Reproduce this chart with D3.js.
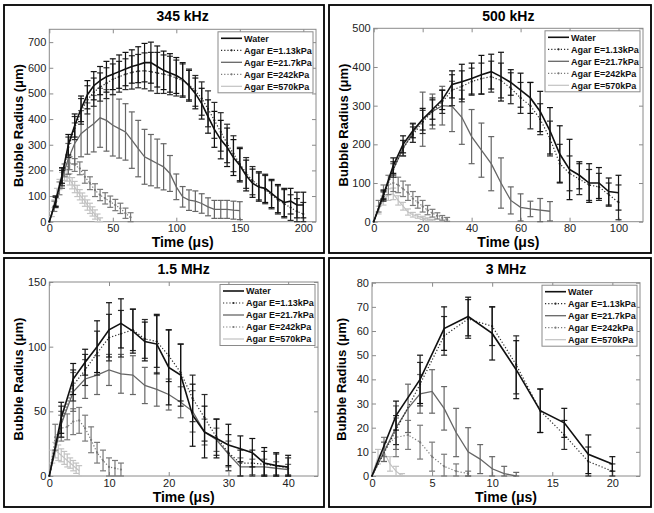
<!DOCTYPE html>
<html>
<head>
<meta charset="utf-8">
<script src="https://cdn.jsdelivr.net/npm/d3@7"></script>
<style>
  body { margin: 0; background: #fff; }
  svg { display: block; font-family: "Liberation Sans", Arial, sans-serif; }
</style>
</head>
<body>
<div id="chart"></div>
<script>
var width = 654,
    height = 513;

// legend labels, same order in every panel
var seriesNames = ["Water", "Agar E=1.13kPa", "Agar E=21.7kPa", "Agar E=242kPa", "Agar E=570kPa"];

// ---- 345 kHz ----
var t345 = [0,5,10,15,20,25,30,35,40,45,50,55,60,65,70,75,80,85,90,95,100,105,110,115,120,125,130,135,140,145,150,155,160,165,170,175,180,185,190,195,200];
var water345 = [0,80,180,300,375,440,495,530,550,565,575,585,595,605,612,620,620,605,590,580,570,555,530,500,460,410,360,320,290,250,220,180,150,135,130,110,90,75,80,65,65];
var water345Err = [0,20,30,40,45,50,55,55,55,60,60,65,65,65,70,75,80,80,75,75,70,65,60,60,60,65,70,75,75,70,65,60,55,55,55,55,55,55,50,50,50];
var agar113_345 = [0,75,170,290,365,430,475,505,525,540,555,565,575,582,587,588,585,580,575,570,560,550,535,510,480,440,395,350,305,265,225,190,160,140,125,105,85,70,55,40,30];
var agar113_345Err = [0,20,30,40,45,50,55,55,55,60,60,60,60,65,65,70,75,80,75,75,70,65,60,60,65,70,70,75,75,70,65,60,55,55,55,55,55,55,50,50,45];
var t217_345 = [0,5,10,15,20,25,30,35,40,45,50,55,60,65,70,75,80,85,90,95,100,105,110,115,120,125,130,135,140,145,150];
var agar217_345 = [0,80,170,245,305,343,363,382,405,395,376,363,350,318,285,253,240,227,214,188,136,97,84,80,71,58,48,48,48,45,43];
var agar217_345Err = [0,20,40,60,80,90,100,110,115,120,120,115,110,110,110,107,100,95,90,70,50,40,40,40,38,35,35,35,35,35,35];
var t242_345 = [0,4,8,12,16,20,24,28,32,36,40,44,48,52,56,60,64];
var agar242_345 = [0,60,130,200,228,221,208,175,150,123,104,91,78,65,52,33,17];
var agar242_345Err = [0,20,25,25,25,25,25,25,25,25,22,22,22,22,20,20,18];
var t570_345 = [0,2,4,6,8,10,12,14,16,18,20,22,24,26,28,30,32,34,36,38,40];
var agar570_345 = [0,30,70,110,145,170,183,180,165,150,135,120,105,92,80,65,52,40,28,15,5];
var agar570_345Err = [0,10,15,20,20,22,22,22,22,22,22,22,20,20,20,20,20,18,18,15,10];

// ---- 500 kHz ----
var t500 = [0,4,8,12,16,20,24,28,32,36,40,44,48,52,56,60,64,68,72,76,80,84,88,92,96,100];
var water500 = [0,70,145,200,235,265,290,315,355,362,370,380,388,375,360,340,320,285,235,175,135,120,100,100,78,75];
var water500Err = [0,12,20,22,18,28,25,25,35,45,40,50,45,63,33,44,40,52,60,73,78,35,50,40,35,45];
var agar113_500 = [0,65,135,190,225,258,285,310,340,350,362,370,375,365,345,320,300,265,215,150,125,110,95,90,70,50];
var agar113_500Err = [0,12,20,20,20,30,35,30,40,40,35,40,40,45,40,40,60,40,45,50,45,40,40,35,30,45];
var t217_500 = [0,4,8,12,16,20,24,28,32,36,40,44,48,52,56,60,64,68,72];
var agar217_500 = [0,70,135,190,230,265,285,300,298,270,220,185,150,100,55,37,33,30,27];
var agar217_500Err = [0,10,15,20,25,70,45,50,65,70,70,70,70,65,35,35,20,30,25];
var t242_500 = [0,2,4,6,8,10,12,14,16,18,20,22,24,26,28,30];
var agar242_500 = [0,40,75,95,100,95,85,75,60,50,40,30,22,15,10,6];
var agar242_500Err = [0,15,20,25,22,20,20,20,18,15,15,12,10,8,6,5];
var t570_500 = [0,2,4,6,8,10,12,14,16,18,20,22,24];
var agar570_500 = [0,30,55,70,72,55,40,25,18,14,10,7,4];
var agar570_500Err = [0,10,12,15,15,12,10,8,6,5,4,3,2];

// ---- 1.5 MHz ----
var t15 = [0,2,4,6,8,10,12,14,16,18,20,22,24,26,28,30,32,34,36,38,40];
var water15 = [0,45,75,88,100,113,118,112,104,102,84,78,47,34,29,24,21,18,10,8,7];
var water15Err = [0,12,12,10,20,21,19,17,15,23,29,24,24,20,15,16,10,11,12,10,9];
var agar113_15 = [0,42,70,82,95,107,110,113,106,104,93,80,60,45,30,18,10,10,9,8,6];
var agar113_15Err = [0,12,12,12,17,18,18,16,15,20,20,22,18,18,14,14,10,10,10,9,8];
var agar217_15 = [0,40,65,75,78,82,79,78,70,67,63,57,50,34,28,17,7,7,7,6,5];
var agar217_15Err = [0,10,15,15,15,12,15,15,14,13,12,12,16,10,9,10,7,6,6,5,4];
var t242_15 = [0,1,2,3,4,5,6,7,8,9,10,11,12];
var agar242_15 = [0,30,37,38,42,43,37,28,18,12,7,6,5];
var agar242_15Err = [0,10,10,10,10,10,10,10,8,8,7,6,5];
var t570_15 = [0,0.5,1,1.5,2,2.5,3,3.5,4,4.5,5];
var agar570_15 = [0,15,20,18,16,14,12,10,8,6,4];
var agar570_15Err = [0,5,6,6,5,5,5,4,4,4,4];

// ---- 3 MHz ----
var t3 = [0,2,4,6,8,10,12,14,16,18,20];
var water3 = [0,25,40,61,66,59,44,27,22,9,5];
var water3Err = [0,6,10,9,8,11,12,9,6,8,3];
var agar113_3 = [0,19,38,58,65,62,46,27,17,6,2];
var agar113_3Err = [0,6,9,8,8,8,12,9,6,6,3];
var t217_3 = [0,1,2,3,4,5,6,7,8,9,10,11,12];
var agar217_3 = [0,10,20,28,34,35,28,18,10,7,3,1,0];
var agar217_3Err = [0,4,9,10,8,9,9,10,10,6,5,3,1.5];
var t242_3 = [0,1,2,3,4,5,6,7,8];
var agar242_3 = [0,12,16,17,14,8,4,2,1];
var agar242_3Err = [0,4,8,6,7,6,5,3,1];
var t570_3 = [0,0.5,1,1.5,2,2.5];
var agar570_3 = [0,8,10,5,2,0];
var agar570_3Err = [0,3,4,3,2,1];

// styles per series (matlab-ish greys)
var colors = ["#111", "#2a2a2a", "#666", "#7a7a7a", "#c2c2c2"];
var dashes = [null, "1.2,2", null, "1.2,2", null];
var widths = [1.6, 1.2, 1.3, 1.2, 1.2];
var dots = [false, true, false, true, false];

function zipSeries(t, v, e) {
    return t.map(function (d, i) { return {t: d, v: v[i], e: e[i]}; });
}

var panels = [
    {title: "345 kHz", frame: [4, 5, 320, 248], plot: [49.3, 29.3, 316, 221.7],
     xDomain: [0, 210], xTicks: [0, 50, 100, 150, 200], yDomain: [0, 750], yTicks: [0,100,200,300,400,500,600,700],
     series: [zipSeries(t345, water345, water345Err), zipSeries(t345, agar113_345, agar113_345Err),
              zipSeries(t217_345, agar217_345, agar217_345Err), zipSeries(t242_345, agar242_345, agar242_345Err),
              zipSeries(t570_345, agar570_345, agar570_345Err)]},
    {title: "500 kHz", frame: [329, 5, 322, 248], plot: [373.7, 28.3, 643, 221.7],
     xDomain: [0, 110], xTicks: [0, 20, 40, 60, 80, 100], yDomain: [0, 500], yTicks: [0,100,200,300,400,500],
     series: [zipSeries(t500, water500, water500Err), zipSeries(t500, agar113_500, agar113_500Err),
              zipSeries(t217_500, agar217_500, agar217_500Err), zipSeries(t242_500, agar242_500, agar242_500Err),
              zipSeries(t570_500, agar570_500, agar570_500Err)]},
    {title: "1.5 MHz", frame: [4, 258, 320, 249], plot: [49.3, 282, 318, 476],
     xDomain: [0, 45], xTicks: [0, 10, 20, 30, 40], yDomain: [0, 150], yTicks: [0, 50, 100, 150],
     series: [zipSeries(t15, water15, water15Err), zipSeries(t15, agar113_15, agar113_15Err),
              zipSeries(t15, agar217_15, agar217_15Err), zipSeries(t242_15, agar242_15, agar242_15Err),
              zipSeries(t570_15, agar570_15, agar570_15Err)]},
    {title: "3 MHz", frame: [329, 258, 322, 249], plot: [372, 282.7, 640, 476],
     xDomain: [0, 22.3], xTicks: [0, 5, 10, 15, 20], yDomain: [0, 80], yTicks: [0,10,20,30,40,50,60,70,80],
     series: [zipSeries(t3, water3, water3Err), zipSeries(t3, agar113_3, agar113_3Err),
              zipSeries(t217_3, agar217_3, agar217_3Err), zipSeries(t242_3, agar242_3, agar242_3Err),
              zipSeries(t570_3, agar570_3, agar570_3Err)]}
];

var svg = d3.select("#chart").append("svg")
    .attr("width", width)
    .attr("height", height);

svg.append("rect").attr("width", width).attr("height", height).attr("fill", "#fff");

panels.forEach(function (p) {
    var x0 = p.plot[0], y0 = p.plot[1], x1 = p.plot[2], y1 = p.plot[3];
    var x = d3.scaleLinear().domain(p.xDomain).range([x0, x1]);
    var y = d3.scaleLinear().domain(p.yDomain).range([y1, y0]);
    var g = svg.append("g");

    // outer frame round each panel
    g.append("rect")
        .attr("x", p.frame[0]).attr("y", p.frame[1])
        .attr("width", p.frame[2]).attr("height", p.frame[3])
        .attr("fill", "none").attr("stroke", "#000").attr("stroke-width", 1.8);

    // axes, ticks inside (matlab style), on all four sides
    var ax = g.append("g").attr("class", "axes");
    ax.append("g").attr("transform", "translate(0," + y1 + ")")
        .call(d3.axisBottom(x).tickValues(p.xTicks).tickSizeInner(-4).tickSizeOuter(0).tickPadding(3));
    ax.append("g").attr("transform", "translate(0," + y0 + ")")
        .call(d3.axisTop(x).tickValues(p.xTicks).tickSizeInner(-4).tickSizeOuter(0).tickFormat(""));
    ax.append("g").attr("transform", "translate(" + x0 + ",0)")
        .call(d3.axisLeft(y).tickValues(p.yTicks).tickSizeInner(-4).tickSizeOuter(0).tickPadding(3));
    ax.append("g").attr("transform", "translate(" + x1 + ",0)")
        .call(d3.axisRight(y).tickValues(p.yTicks).tickSizeInner(-4).tickSizeOuter(0).tickFormat(""));
    ax.selectAll(".domain").remove();
    ax.selectAll(".tick line").attr("stroke", "#8a8a8a");
    ax.selectAll(".tick text").attr("fill", "#222").style("font-size", "11px")
        .style("font-family", "'Liberation Sans', Arial, sans-serif");
    g.append("rect")
        .attr("x", x0).attr("y", y0).attr("width", x1 - x0).attr("height", y1 - y0)
        .attr("fill", "none").attr("stroke", "#8a8a8a").attr("stroke-width", 1);

    // series, drawn back to front so water ends on top
    var line = d3.line().x(function (d) { return x(d.t); }).y(function (d) { return y(d.v); });
    for (var s = p.series.length - 1; s >= 0; s--) {
        var data = p.series[s];
        var sg = g.append("g");
        var bars = sg.selectAll("g.bar").data(data.filter(function (d) { return d.e > 0; }))
            .enter().append("g").attr("stroke", colors[s]).attr("stroke-width", 1.2);
        bars.append("line")
            .attr("x1", function (d) { return x(d.t); }).attr("x2", function (d) { return x(d.t); })
            .attr("y1", function (d) { return y(d.v + d.e); })
            .attr("y2", function (d) { return y(Math.max(0, d.v - d.e)); });
        bars.append("line")
            .attr("x1", function (d) { return x(d.t) - 3; }).attr("x2", function (d) { return x(d.t) + 3; })
            .attr("y1", function (d) { return y(d.v + d.e); }).attr("y2", function (d) { return y(d.v + d.e); });
        bars.append("line")
            .attr("x1", function (d) { return x(d.t) - 3; }).attr("x2", function (d) { return x(d.t) + 3; })
            .attr("y1", function (d) { return y(Math.max(0, d.v - d.e)); })
            .attr("y2", function (d) { return y(Math.max(0, d.v - d.e)); });
        sg.append("path").datum(data)
            .attr("d", line).attr("fill", "none")
            .attr("stroke", colors[s]).attr("stroke-width", widths[s])
            .attr("stroke-dasharray", dashes[s]);
        if (dots[s]) {
            sg.selectAll("circle").data(data).enter().append("circle")
                .attr("cx", function (d) { return x(d.t); }).attr("cy", function (d) { return y(d.v); })
                .attr("r", 1.1).attr("fill", colors[s]);
        }
    }

    // title and axis labels
    var cx = (x0 + x1) / 2;
    g.append("text").attr("x", cx).attr("y", p.frame[1] + 16)
        .attr("text-anchor", "middle").style("font-weight", "bold").style("font-size", "14px")
        .text(p.title);
    g.append("text").attr("x", cx).attr("y", y1 + 25.5)
        .attr("text-anchor", "middle").style("font-weight", "bold").style("font-size", "14px")
        .text("Time (\u03bcs)");
    g.append("text")
        .attr("transform", "translate(" + (x0 - 26) + "," + ((y0 + y1) / 2) + ") rotate(-90)")
        .attr("text-anchor", "middle").style("font-weight", "bold").style("font-size", "13px")
        .text("Bubble Radius (\u03bcm)");

    // legend box top right
    var lx = x1 - 98, ly = y0 + 2.5;
    var leg = g.append("g").attr("transform", "translate(" + lx + "," + ly + ")");
    leg.append("rect").attr("width", 95).attr("height", 61)
        .attr("fill", "#fff").attr("stroke", "#8a8a8a").attr("stroke-width", 1);
    seriesNames.forEach(function (name, i) {
        var ry = 6.5 + i * 12;
        leg.append("line").attr("x1", 3).attr("x2", 24).attr("y1", ry).attr("y2", ry)
            .attr("stroke", colors[i]).attr("stroke-width", widths[i]).attr("stroke-dasharray", dashes[i]);
        if (dots[i]) {
            leg.append("circle").attr("cx", 13.5).attr("cy", ry).attr("r", 1.1).attr("fill", colors[i]);
        }
        leg.append("text").attr("x", 26).attr("y", ry + 3.3)
            .style("font-size", "9px").style("font-weight", "bold").attr("fill", "#111")
            .text(name);
    });
});
</script>
</body>
</html>
